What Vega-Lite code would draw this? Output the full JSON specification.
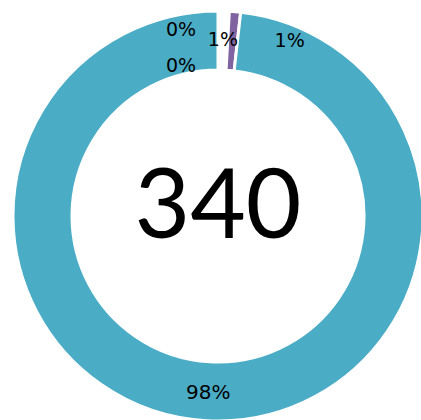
{
  "$schema": "https://vega.github.io/schema/vega-lite/v6.json",
  "autosize": {"type": "none"},
  "padding": {"left": 15, "top": 12, "right": 0, "bottom": 0},
  "width": 406,
  "height": 408,
  "background": "white",
  "config": {"view": {"stroke": null}, "text": {"font": "DejaVu Sans"}},
  "data": {"values": [
    {"k": 1, "cat": "D", "value": 0},
    {"k": 2, "cat": "E", "value": 0},
    {"k": 3, "cat": "A", "value": 3},
    {"k": 4, "cat": "B", "value": 3},
    {"k": 5, "cat": "C", "value": 334}
  ]},
  "transform": [
    {"joinaggregate": [{"op": "sum", "field": "value", "as": "total"}]},
    {"calculate": "datum.value / datum.total", "as": "pct"}
  ],
  "encoding": {
    "theta": {"field": "value", "type": "quantitative", "stack": true},
    "order": {"field": "k", "type": "quantitative"}
  },
  "layer": [
    {
      "mark": {"type": "arc", "radius": 205, "radius2": 146, "stroke": "white", "strokeWidth": 3},
      "encoding": {
        "color": {
          "field": "cat", "type": "nominal", "legend": null,
          "scale": {"domain": ["D", "E", "A", "B", "C"], "range": ["#4F81BD", "#C0504D", "#FFFFFF", "#8064A2", "#4BACC6"]}
        }
      }
    },
    {
      "mark": {"type": "text", "radius": 176, "fontSize": 19, "color": "black"},
      "encoding": {
        "text": {"condition": {"test": "datum.cat === 'A'", "field": "pct", "type": "quantitative", "format": ".0%"}, "value": ""}
      }
    },
    {
      "mark": {"type": "text", "radius": 176, "fontSize": 20, "color": "black", "dy": 1},
      "encoding": {
        "text": {"condition": {"test": "datum.cat === 'C'", "field": "pct", "type": "quantitative", "format": ".0%"}, "value": ""}
      }
    },
    {
      "mark": {"type": "text", "radius": 176, "fontSize": 19, "color": "black", "dx": 57},
      "encoding": {
        "text": {"condition": {"test": "datum.cat === 'B'", "field": "pct", "type": "quantitative", "format": ".0%"}, "value": ""}
      }
    },
    {
      "mark": {"type": "text", "radius": 176, "fontSize": 19, "color": "black", "dx": -37, "dy": -10},
      "encoding": {
        "text": {"condition": {"test": "datum.cat === 'D'", "field": "pct", "type": "quantitative", "format": ".0%"}, "value": ""}
      }
    },
    {
      "mark": {"type": "text", "radius": 176, "fontSize": 19, "color": "black", "dx": -37, "dy": 26},
      "encoding": {
        "text": {"condition": {"test": "datum.cat === 'E'", "field": "pct", "type": "quantitative", "format": ".0%"}, "value": ""}
      }
    },
    {
      "mark": {"type": "text", "font": "Lato", "fontSize": 96, "color": "black", "baseline": "alphabetic", "dy": 22},
      "encoding": {
        "theta": null,
        "order": null,
        "text": {"aggregate": "sum", "field": "value", "type": "quantitative"}
      }
    }
  ]
}
